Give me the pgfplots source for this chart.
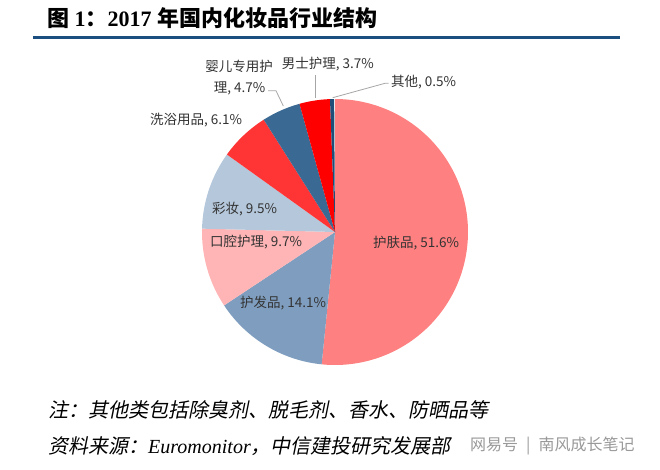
\documentclass[border=0pt]{standalone}
\usepackage{pgfplots}
\pgfplotsset{compat=1.18}
\usepgfplotslibrary{polar}
\usepackage{fontspec}
\setmainfont{Liberation Serif}
\newfontfamily\cjk{Noto Sans CJK SC}
\newfontfamily\cjkb{Noto Sans CJK SC}[UprightFont={* Bold}]
\newfontfamily\cjki{Noto Sans CJK SC}[FakeSlant=0.2]
\definecolor{cSkin}{HTML}{FF8080}
\definecolor{cHair}{HTML}{7F9EBF}
\definecolor{cOral}{HTML}{FFB5B5}
\definecolor{cMake}{HTML}{B5C8DB}
\definecolor{cBath}{HTML}{FF3535}
\definecolor{cBaby}{HTML}{3A6A94}
\definecolor{cMen}{HTML}{FF0000}
\definecolor{cOther}{HTML}{1F4E79}
\definecolor{titleline}{HTML}{1B4F7F}
\definecolor{lead}{HTML}{A6A6A6}
\begin{document}
\begin{tikzpicture}
\path[use as bounding box] (0pt,0pt) rectangle (660pt,-470pt);
% cumulative shares (%): 0, 51.6, 65.7, 75.4, 84.9, 91.0, 95.7, 99.4, 99.9
\begin{polaraxis}[at={(335pt,-232pt)}, anchor=origin, scale only axis,
  width=266pt, height=266pt, hide axis, ymin=0, ymax=1, clip=false]
\addplot[draw=none, fill=cSkin,  domain={90-3.6*51.6}:{90-3.6*0},    samples=150] {1} -- (axis cs:0,0) -- cycle;
\addplot[draw=none, fill=cHair,  domain={90-3.6*65.7}:{90-3.6*51.6}, samples=60] {1} -- (axis cs:0,0) -- cycle;
\addplot[draw=none, fill=cOral,  domain={90-3.6*75.4}:{90-3.6*65.7}, samples=40] {1} -- (axis cs:0,0) -- cycle;
\addplot[draw=none, fill=cMake,  domain={90-3.6*84.9}:{90-3.6*75.4}, samples=40] {1} -- (axis cs:0,0) -- cycle;
\addplot[draw=none, fill=cBath,  domain={90-3.6*91.0}:{90-3.6*84.9}, samples=30] {1} -- (axis cs:0,0) -- cycle;
\addplot[draw=none, fill=cBaby,  domain={90-3.6*95.7}:{90-3.6*91.0}, samples=20] {1} -- (axis cs:0,0) -- cycle;
\addplot[draw=none, fill=cMen,   domain={90-3.6*99.4}:{90-3.6*95.7}, samples=20] {1} -- (axis cs:0,0) -- cycle;
\addplot[draw=none, fill=cOther, domain={90-3.6*99.9}:{90-3.6*99.4}, samples=5] {1} -- (axis cs:0,0) -- cycle;
\end{polaraxis}
\begin{scope}[x=1pt,y=-1pt]
% title
\node[anchor=west, inner sep=0pt] at (47,18) {\fontsize{22}{26}\selectfont\bfseries{\cjkb 图} 1{\cjkb ：}2017 {\cjkb 年国内化妆品行业结构}};
\fill[titleline] (33,36.5) rectangle (620,39.3);
% leader lines
\draw[lead, line width=0.8pt] (332.7,97.7) -- (385,83.3) -- (388.5,83.3);
\draw[lead, line width=0.8pt] (315.7,97.7) -- (315.7,75);
\draw[lead, line width=0.8pt] (283.3,106) -- (276,90.7) -- (268,90.7);
% labels
\begin{scope}[every node/.style={inner sep=0pt, font=\cjk\fontsize{13.5}{16}\selectfont, text=black!80}]
\node[anchor=west] at (373,243) {护肤品, 51.6\%};
\node[anchor=west] at (240,303) {护发品, 14.1\%};
\node[anchor=west] at (210,242) {口腔护理, 9.7\%};
\node[anchor=west] at (212,209) {彩妆, 9.5\%};
\node[anchor=west] at (150,120) {洗浴用品, 6.1\%};
\node at (239,66) {婴儿专用护};
\node at (239.5,88) {理, 4.7\%};
\node[anchor=west] at (281.7,64) {男士护理, 3.7\%};
\node[anchor=west] at (391,82) {其他, 0.5\%};
\end{scope}
% notes
\node[anchor=west, inner sep=0pt] at (48,410) {\fontsize{20}{24}\selectfont\cjki 注：其他类包括除臭剂、脱毛剂、香水、防晒品等};
\node[anchor=west, inner sep=0pt] at (48,446) {\fontsize{20}{24}\selectfont{\cjki 资料来源：}\textit{Euromonitor}{\cjki ，中信建投研究发展部}};
\node[anchor=west, inner sep=0pt, text=black!40] at (470,446) {\fontsize{16}{20}\selectfont\cjk 网易号\enspace|\enspace 南风成长笔记};
\end{scope}
\end{tikzpicture}
\end{document}
